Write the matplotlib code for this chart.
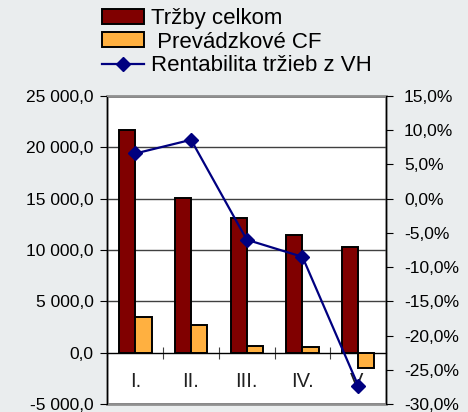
import matplotlib.pyplot as plt
import numpy as np
from matplotlib.ticker import FuncFormatter

plt.rcParams['font.family'] = ['Liberation Sans', 'DejaVu Sans']

categories = ['I.', 'II.', 'III.', 'IV.', 'V.']
trzby = [21700, 15050, 13150, 11500, 10250]
prev_cf = [3450, 2680, 690, 560, -1450]
rentabilita = [6.6, 8.6, -6.0, -8.5, -27.3]

def left_fmt(v, pos):
    s = '{:,.1f}'.format(v).replace(',', ' ').replace('.', ',')
    return s

def right_fmt(v, pos):
    return '{:.1f}%'.format(v).replace('.', ',')

fig = plt.figure(figsize=(4.68, 4.12), dpi=100)
fig.patch.set_facecolor('#EAEDEE')
ax = fig.add_axes([0.2297, 0.0194, 0.5951, 0.7476])
ax.set_facecolor('white')

x = np.arange(len(categories))
w = 0.29
ax.bar(x - w/2, trzby, w, color='#800000', edgecolor='black', linewidth=1.4,
       label='Tržby celkom', zorder=3)
ax.bar(x + w/2, prev_cf, w, color='#FFB040', edgecolor='black', linewidth=1.4,
       label=' Prevádzkové CF', zorder=3)

ax.set_xlim(-0.5, len(categories) - 0.5)
ax.set_ylim(-5000, 25000)
ax.set_yticks(np.arange(-5000, 25001, 5000))
ax.yaxis.set_major_formatter(FuncFormatter(left_fmt))
ax.grid(axis='y', color='#404040', linewidth=1, zorder=1)
ax.set_axisbelow(True)

# category axis sits on the zero line
ax.spines['bottom'].set_position(('data', 0))
ax.spines['bottom'].set_color('black')
ax.spines['top'].set_color('#909090')
ax.spines['right'].set_visible(False)
ax.spines['left'].set_color('black')
ax.patch.set_edgecolor('#909090')
ax.patch.set_linewidth(2)

ax.set_xticks(x[:-1] + 0.5)
ax.set_xticklabels([])
ax.set_xticks(x, minor=True)
ax.set_xticklabels(categories, minor=True, fontsize=14.5, color='#202020')
ax.tick_params(axis='x', which='major', direction='inout', length=9, color='#404040')
ax.tick_params(axis='x', which='minor', length=0, pad=14)
ax.tick_params(axis='y', direction='out', length=5, pad=5, labelsize=12.5)

ax2 = ax.twinx()
ax2.plot(x, rentabilita, color='#000080', linewidth=1.6, marker='D', markersize=7.5,
         label='Rentabilita tržieb z VH', zorder=5)
ax2.set_ylim(-30, 15)
ax2.set_yticks(np.arange(-30, 15.1, 5))
ax2.yaxis.set_major_formatter(FuncFormatter(right_fmt))
ax2.tick_params(axis='y', direction='out', length=5, pad=8, labelsize=12.5)
for s in ['top', 'bottom', 'left']:
    ax2.spines[s].set_visible(False)
ax2.spines['right'].set_color('black')

h1, l1 = ax.get_legend_handles_labels()
h2, l2 = ax2.get_legend_handles_labels()
fig.legend(h1 + h2, l1 + l2, loc='upper left', bbox_to_anchor=(102/468, 1 - 8/412),
           frameon=False, fontsize=16, handlelength=1.9, handleheight=0.65,
           handletextpad=0.3, labelspacing=0.12, borderpad=0, borderaxespad=0)

plt.savefig('out.png', dpi=100, facecolor=fig.get_facecolor())
